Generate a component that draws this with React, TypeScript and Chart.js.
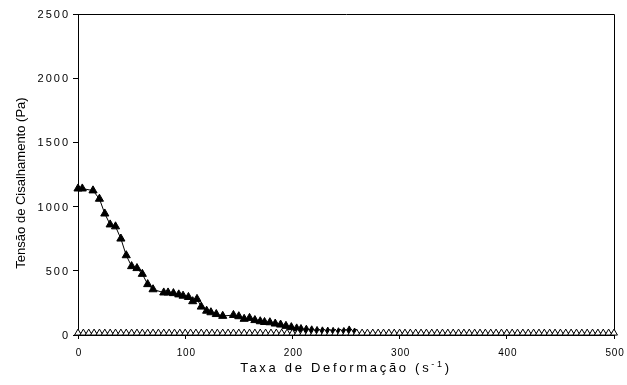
import React, { useEffect, useRef } from "react";
import { Chart, registerables } from "chart.js";

Chart.register(...registerables);

// Filled triangles series (shear stress vs shear rate)
const filledX = [0, 4, 14, 20, 25, 30, 35, 40, 45, 50, 55, 60, 65, 70, 80, 84, 89, 94, 98, 103, 107, 111, 115, 120, 124, 129, 135, 145, 150, 155, 160, 165, 170, 174, 179, 184, 189, 194, 199, 204, 208, 213, 218, 223, 228, 233, 238, 243, 248, 253, 258];
const filledY = [1140, 1140, 1125, 1060, 945, 860, 845, 750, 620, 535, 520, 475, 395, 355, 330, 330, 325, 315, 305, 295, 262, 280, 220, 188, 176, 162, 148, 155, 145, 125, 132, 115, 106, 100, 98, 88, 80, 70, 60, 50, 45, 40, 35, 30, 27, 25, 23, 20, 22, 34, 18];

// Open triangles series
const openX = [0, 5, 10, 15, 20, 25, 30, 35, 40, 45, 50, 55, 60, 65, 70, 75, 80, 85, 90, 95, 100, 105, 110, 115, 120, 125, 130, 135, 140, 145, 150, 155, 160, 165, 170, 175, 180, 185, 190, 195, 200, 205, 210, 215, 220, 225, 230, 235, 240, 245, 250, 255, 260, 265, 270, 275, 280, 285, 290, 295, 300, 305, 310, 315, 320, 325, 330, 335, 340, 345, 350, 355, 360, 365, 370, 375, 380, 385, 390, 395, 400, 405, 410, 415, 420, 425, 430, 435, 440, 445, 450, 455, 460, 465, 470, 475, 480, 485, 490, 495, 500];
const openY = [15, 15, 15, 15, 15, 15, 15, 15, 15, 15, 15, 15, 15, 15, 15, 15, 15, 15, 15, 15, 15, 15, 15, 15, 15, 15, 15, 15, 15, 15, 15, 15, 15, 15, 15, 15, 15, 15, 15, 15, 15, 15, 15, 15, 15, 15, 15, 15, 15, 15, 15, 15, 15, 15, 15, 15, 15, 15, 15, 15, 15, 15, 15, 15, 15, 15, 15, 15, 15, 15, 15, 15, 15, 15, 15, 15, 15, 15, 15, 15, 15, 15, 15, 15, 15, 15, 15, 15, 15, 15, 15, 15, 15, 15, 15, 15, 15, 15, 15, 15, 15];

const xMin = 0;
const xMax = 500;
const xStep = 100;
const yMin = 0;
const yMax = 2500;
const yStep = 500;

const xTitleMain = "Taxa de Deformação (s";
const xTitleSup = "-1";
const xTitleEnd = ")";
const yTitle = "Tensão de Cisalhamento (Pa)";

const FONT = "'Liberation Sans', Arial, sans-serif";

const textPlugin = {
  id: "excelText",
  beforeDatasetsDraw(chart: any) {
    const { ctx, chartArea } = chart;
    const { left, right, top, bottom } = chartArea;
    ctx.save();
    ctx.strokeStyle = "#000";
    ctx.lineWidth = 1;
    ctx.beginPath();
    ctx.moveTo(Math.round(left) + 0.5, Math.round(top) + 0.5);
    ctx.lineTo(Math.round(right) + 0.5, Math.round(top) + 0.5);
    ctx.lineTo(Math.round(right) + 0.5, Math.round(bottom) + 0.5);
    ctx.stroke();
    ctx.restore();
  },
  afterDraw(chart: any) {
    const { ctx, chartArea } = chart;
    const xs = chart.scales.x;
    const ys = chart.scales.y;
    ctx.save();
    ctx.fillStyle = "#000";
    // x tick labels
    ctx.font = `10px ${FONT}`;
    (ctx as any).letterSpacing = "0.8px";
    ctx.textAlign = "center";
    ctx.textBaseline = "middle";
    xs.ticks.forEach((t: any) => {
      const px = xs.getPixelForValue(t.value);
      ctx.fillText(String(t.value), px + 1, chartArea.bottom + 18);
    });
    // y tick labels
    ctx.font = `11px ${FONT}`;
    (ctx as any).letterSpacing = "2px";
    ctx.textAlign = "right";
    ys.ticks.forEach((t: any) => {
      const py = ys.getPixelForValue(t.value);
      ctx.fillText(String(t.value), chartArea.left - 8, py + 1);
    });
    // x title
    (ctx as any).letterSpacing = "2.7px";
    ctx.font = `13px ${FONT}`;
    ctx.textAlign = "left";
    ctx.textBaseline = "alphabetic";
    const w1 = ctx.measureText(xTitleMain).width;
    ctx.font = `9px ${FONT}`;
    const w2 = ctx.measureText(xTitleSup).width;
    ctx.font = `13px ${FONT}`;
    const w3 = ctx.measureText(xTitleEnd).width;
    const total = w1 + w2 + w3;
    const cx = (chartArea.left + chartArea.right) / 2;
    let x0 = cx - total / 2;
    const base = chartArea.bottom + 37;
    ctx.fillText(xTitleMain, x0, base);
    x0 += w1;
    ctx.font = `9px ${FONT}`;
    ctx.fillText(xTitleSup, x0, base - 5);
    x0 += w2;
    ctx.font = `13px ${FONT}`;
    ctx.fillText(xTitleEnd, x0, base);
    // y title
    (ctx as any).letterSpacing = "0px";
    ctx.translate(21, 183);
    ctx.rotate(-Math.PI / 2);
    ctx.textAlign = "center";
    ctx.textBaseline = "middle";
    ctx.font = `13px ${FONT}`;
    ctx.fillText(yTitle, 0, 0);
    ctx.restore();
  },
};

export default function App() {
  const ref = useRef<HTMLCanvasElement | null>(null);
  useEffect(() => {
    if (!ref.current) return;
    const chart = new Chart(ref.current, {
      type: "scatter",
      data: {
        datasets: [
          {
            label: "aberto",
            data: openX.map((x, i) => ({ x, y: openY[i] })),
            showLine: true,
            borderColor: "#000",
            borderWidth: 1,
            pointStyle: "triangle",
            pointRadius: 4,
            pointBackgroundColor: "#fff",
            pointBorderColor: "#000",
            pointBorderWidth: 1,
            clip: false,
            order: 0,
          } as any,
          {
            label: "cheio",
            data: filledX.map((x, i) => ({ x, y: filledY[i] })),
            showLine: true,
            borderColor: "#000",
            borderWidth: 1,
            pointStyle: "triangle",
            pointRadius: 4.7,
            pointBackgroundColor: "#000",
            pointBorderColor: "#000",
            pointBorderWidth: 1,
            clip: false,
            order: 1,
          } as any,
        ],
      },
      options: {
        animation: false,
        responsive: false,
        maintainAspectRatio: false,
        events: [],
        layout: { padding: { top: 14, right: 13, left: 0, bottom: 0 } },
        plugins: { legend: { display: false }, tooltip: { enabled: false } },
        scales: {
          x: {
            type: "linear",
            min: xMin,
            max: xMax,
            ticks: { stepSize: xStep, display: false },
            grid: { display: true, drawOnChartArea: false, drawTicks: true, tickLength: 4, color: "#000", lineWidth: 1 },
            border: { display: true, color: "#000", width: 1 },
            afterFit: (s: any) => { s.height = 50; },
          },
          y: {
            type: "linear",
            min: yMin,
            max: yMax,
            ticks: { stepSize: yStep, display: false },
            grid: { display: true, drawOnChartArea: false, drawTicks: true, tickLength: 5, color: "#000", lineWidth: 1 },
            border: { display: true, color: "#000", width: 1 },
            afterFit: (s: any) => { s.width = 78; },
          },
        },
      },
      plugins: [textPlugin],
    });
    return () => chart.destroy();
  }, []);
  return (
    <div style={{ position: "fixed", left: 0, top: 0, width: 627, height: 385, background: "#fff" }}>
      <canvas ref={ref} width={627} height={385} style={{ width: 627, height: 385, display: "block" }} />
    </div>
  );
}
